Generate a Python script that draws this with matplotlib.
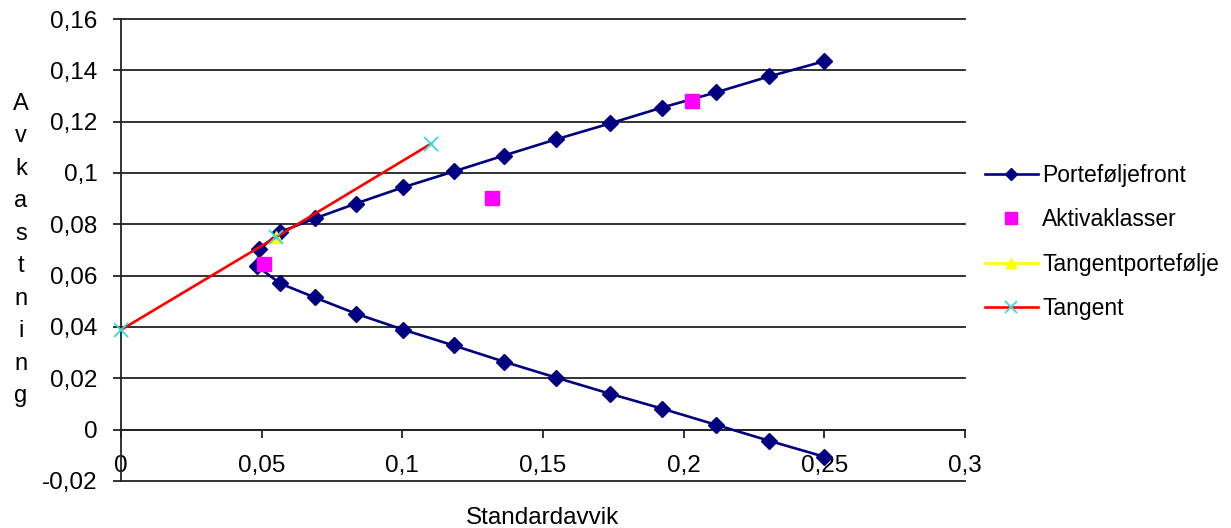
import matplotlib
matplotlib.use("Agg")
import matplotlib.pyplot as plt
from matplotlib.lines import Line2D

plt.rcParams['font.family'] = ['Liberation Sans', 'DejaVu Sans']

# Efficient frontier (standard deviation, expected return)
front_sd = [0.2498, 0.2303, 0.2115, 0.1923, 0.1738, 0.1546, 0.1361, 0.1183,
            0.1002, 0.0835, 0.0689, 0.0565, 0.0484, 0.0492, 0.0565, 0.0689,
            0.0835, 0.1002, 0.1183, 0.1361, 0.1546, 0.1738, 0.1923, 0.2115,
            0.2303, 0.2498]
front_ret = [-0.0105, -0.0043, 0.0019, 0.0082, 0.0140, 0.0203, 0.0265, 0.0328,
             0.0390, 0.0452, 0.0515, 0.0570, 0.0637, 0.0702, 0.0770, 0.0823,
             0.0881, 0.0944, 0.1006, 0.1068, 0.1131, 0.1193, 0.1255, 0.1314,
             0.1376, 0.1435]

# Asset classes
asset_sd = [0.0508, 0.1319, 0.2029]
asset_ret = [0.0644, 0.0901, 0.1279]

# Tangency portfolio
tan_pf_sd = [0.0551]
tan_pf_ret = [0.0750]

# Tangent (capital market line)
tangent_sd = [0.0, 0.0551, 0.1102]
tangent_ret = [0.0389, 0.0750, 0.1114]

yticks = [-0.02, 0.0, 0.02, 0.04, 0.06, 0.08, 0.10, 0.12, 0.14, 0.16]
ytick_labels = ["-0,02", "0", "0,02", "0,04", "0,06", "0,08", "0,1", "0,12", "0,14", "0,16"]
xticks = [0.0, 0.05, 0.10, 0.15, 0.20, 0.25, 0.30]
xtick_labels = ["0", "0,05", "0,1", "0,15", "0,2", "0,25", "0,3"]

W, H = 1231, 528
fig = plt.figure(figsize=(W / 100, H / 100), dpi=100)
ax = fig.add_axes([121 / W, 1 - 481 / H, (965 - 121) / W, (481 - 19) / H])

ax.set_xlim(0, 0.3)
ax.set_ylim(-0.02, 0.16)

navy = "#000080"
ax.plot(front_sd, front_ret, color=navy, lw=1.9, marker="D", ms=8,
        mfc=navy, mec=navy, zorder=3, label="Porteføljefront")
ax.plot(asset_sd, asset_ret, ls="none", marker="s", ms=10.5,
        mfc="#ff00ff", mec="#ff00ff", zorder=4, label="Aktivaklasser")
ax.plot(tan_pf_sd, tan_pf_ret, color="#ffff00", lw=1.9, marker="^", ms=8,
        mfc="#ffff00", mec="#ffff00", zorder=5, label="Tangentportefølje")
ax.plot(tangent_sd, tangent_ret, color="#ff0000", lw=1.9, marker="x", ms=10,
        mec="#33dddd", mew=1.3, zorder=6, label="Tangent", clip_on=False)

# Horizontal gridlines
for y in yticks:
    ax.axhline(y, color="#222222", lw=1.3, zorder=1, clip_on=False)

for s in ("top", "right"):
    ax.spines[s].set_visible(False)
ax.spines["left"].set_color("#222222")
ax.spines["left"].set_linewidth(1.3)
ax.spines["bottom"].set_position(("data", 0))
ax.spines["bottom"].set_color("#222222")
ax.spines["bottom"].set_linewidth(1.3)

ax.set_yticks(yticks)
ax.set_yticklabels(ytick_labels)
ax.set_xticks(xticks)
ax.set_xticklabels(xtick_labels)
ax.tick_params(axis="y", direction="out", length=6, width=1.3, color="#222222",
               pad=11, labelsize=17.5)
ax.tick_params(axis="x", direction="out", length=6, width=1.3, color="#222222",
               pad=12, labelsize=17.5)

# Axis titles
fig.text(543 / W, 1 - 507 / H, "Standardavvik", ha="center", va="top", fontsize=17.5)
fig.text(21 / W, 1 - 250 / H, "\n".join("Avkastning"), ha="center", va="center",
         fontsize=17, linespacing=1.62)

handles = [
    Line2D([], [], color=navy, lw=1.9, marker="D", ms=6, mfc=navy, mec=navy),
    Line2D([], [], ls="none", marker="s", ms=8, mfc="#ff00ff", mec="#ff00ff"),
    Line2D([], [], color="#ffff00", lw=1.9, marker="^", ms=7, mfc="#ffff00", mec="#ffff00"),
    Line2D([], [], color="#ff0000", lw=1.9, marker="x", ms=8, mec="#33dddd", mew=1.3),
]
labels = ["Porteføljefront", "Aktivaklasser", "Tangentportefølje", "Tangent"]
fig.legend(handles, labels, loc="center left", bbox_to_anchor=(985 / W, 1 - 242 / H),
           frameon=False, fontsize=16.5, handlelength=2.3, handletextpad=0.2,
           labelspacing=0.93, borderaxespad=0, borderpad=0)

fig.savefig("out.png", dpi=100)
